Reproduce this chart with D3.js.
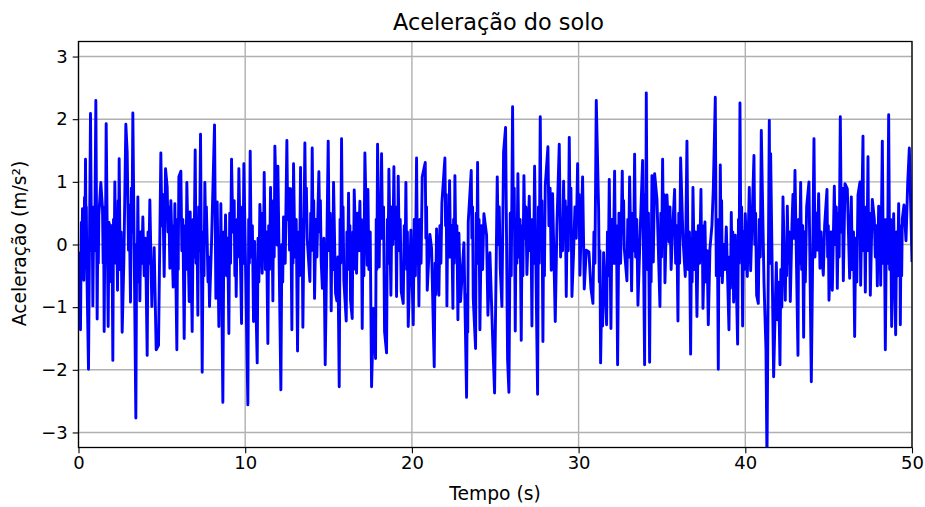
<!DOCTYPE html>
<html><head><meta charset="utf-8">
<script src="https://cdnjs.cloudflare.com/ajax/libs/d3/7.8.5/d3.min.js"></script>
<style>html,body{margin:0;padding:0;background:#fff}svg{display:block}text{font-family:"DejaVu Sans",sans-serif;fill:#000}</style>
</head><body><svg id="c" width="925" height="507"></svg>
<script>
const chartTitle = "Aceleração do solo";
const xLabel = "Tempo (s)";
const yLabel = "Aceleração (m/s²)";
const xTicks = [0,10,20,30,40,50];
const yTicks = [-3,-2,-1,0,1,2,3];
// Main peaks and troughs
const times = [0,.06,.12,.24,.32,.42,.50,.60,.72,.86,1.04,1.12,1.22,1.34,1.44,1.54,1.66,1.78,1.92,2.06,2.18,2.34,2.44,2.62,2.72,2.84,2.92,3.00,3.04,3.12,3.26,3.44,3.56,3.68,3.86,4.12,4.28,4.40,4.54,4.66,4.80,4.94,5.14,5.22,5.32,5.48,5.54,5.68,5.78,5.90,6.02,6.14,6.34,6.50,6.64,6.70,6.82,7.00,7.16,7.32,7.42,7.58,7.72,7.86,7.98,8.16,8.24,8.32,8.42,8.54,8.66,8.82,9.02,9.18,9.46,9.62,9.78,9.92,10.16,10.30,10.50,10.56,10.72,10.88,11.02,11.14,11.36,11.52,11.66,11.78,11.92,11.96,12.14,12.30,12.40,12.50,12.66,12.72,12.80,12.90,13.14,13.32,13.46,13.58,13.72,13.88,14.02,14.16,14.42,14.56,14.80,14.98,15.16,15.30,15.42,15.64,15.78,15.92,16.06,16.20,16.32,16.42,16.54,16.68,16.88,17.02,17.18,17.32,17.36,17.58,17.70,17.82,17.94,18.04,18.18,18.36,18.48,18.62,18.74,18.92,19.08,19.18,19.36,19.48,19.64,19.78,19.94,20.08,20.28,20.42,20.62,20.80,20.92,21.08,21.18,21.34,21.48,21.62,21.80,21.98,22.10,22.26,22.46,22.58,22.76,22.82,22.92,23.12,23.28,23.38,23.56,23.68,23.82,23.94,24.08,24.32,24.48,24.56,24.68,24.86,24.96,25.12,25.30,25.40,25.50,25.62,25.74,25.82,26.04,26.20,26.36,26.56,26.72,26.90,27.04,27.20,27.36,27.54,27.70,27.86,28.00,28.16,28.36,28.44,28.60,28.70,28.84,28.92,29.10,29.26,29.44,29.60,29.70,29.94,30.08,30.24,30.34,30.46,30.62,30.74,30.86,31.06,31.20,31.32,31.50,31.68,31.84,31.94,32.16,32.34,32.62,32.74,32.90,33.06,33.18,33.36,33.56,33.70,33.84,33.96,34.06,34.26,34.40,34.48,34.56,34.70,34.88,35.04,35.18,35.30,35.42,35.62,35.76,35.96,36.12,36.26,36.40,36.50,36.72,36.86,37.10,37.34,37.46,37.58,37.78,37.88,38.00,38.08,38.20,38.38,38.50,38.62,38.86,39.02,39.16,39.30,39.40,39.54,39.68,39.84,40.00,40.12,40.24,40.32,40.52,40.68,40.78,40.96,41.12,41.24,41.30,41.44,41.70,41.86,42.08,42.26,42.40,42.52,42.70,42.80,42.98,43.16,43.32,43.50,43.68,43.82,43.96,44.12,44.32,44.40,44.48,44.68,44.76,44.90,45.02,45.14,45.22,45.34,45.52,45.70,45.88,45.98,46.12,46.26,46.36,46.56,46.76,46.88,46.92,47.06,47.20,47.36,47.50,47.62,47.74,47.92,48.00,48.12,48.22,48.40,48.60,48.78,48.90,49.02,49.20,49.30,49.42,49.52,49.64,49.74,49.84,50];
const accel = [-.14,-.14,-1.36,.57,-.57,1.36,-.38,-1.99,2.09,-.98,2.30,-1.19,.47,.99,.57,-1.39,1.93,-1.31,.31,-1.85,1.00,-.73,1.37,-1.40,-.28,1.92,1.48,-.09,.63,-.92,2.10,-2.77,.76,-.90,.44,-1.77,.71,-.99,-.05,-1.68,-1.61,1.46,-.51,1.21,.92,-.38,.70,-.68,.65,-1.68,1.08,1.17,-1.50,.99,-.91,.52,-1.39,1.51,-1.13,1.76,-2.04,.99,.04,-.99,.03,1.91,-.86,.68,-1.31,.65,-2.52,.47,-1.42,1.36,-.83,1.21,-1.26,1.29,-2.56,1.49,-1.23,.05,-1.89,.64,-.46,1.15,-1.58,.91,-.90,1.57,-.01,1.25,-2.32,.44,-.30,1.66,-.09,.89,-1.36,1.29,-1.70,1.23,-1.32,1.62,.10,-.59,1.54,-.86,1.16,-.28,-1.92,1.65,-1.06,.99,-.78,-2.27,1.69,-.58,-1.22,.82,-.89,-1.18,.87,-.46,.69,-1.34,1.46,-.33,.88,-2.27,-1.02,-1.82,1.60,-.36,1.45,-1.39,-1.73,1.20,-.81,1.24,-.83,1.09,-.75,-.94,.99,-1.31,.23,-1.28,1.38,-.98,1.08,1.31,-.73,.16,-.06,-1.95,.25,-.81,.67,1.38,-.98,1.02,-1.02,1.10,-1.20,.18,-.91,.03,-2.44,.36,1.18,-.86,-1.66,1.31,-1.36,.49,.15,-1.13,-.13,-1.63,-2.37,1.08,-.38,-.99,1.48,1.87,-1.84,-2.36,2.20,-1.38,1.13,-1.53,1.10,-.48,.77,-1.30,1.25,-2.39,2.04,-1.55,.94,1.56,-.41,.81,-1.23,.31,1.60,-.20,1.01,-.83,1.71,-.83,-.12,1.29,-.49,1.08,-.71,-.09,-.12,-.70,-.94,2.30,.57,-1.89,-.13,-1.28,1.04,-1.34,1.17,-1.92,1.17,-.06,-.58,1.08,-.74,1.44,-.97,.25,1.34,-1.92,2.42,-1.88,1.10,-.28,1.13,.73,-.99,1.36,-.61,.79,.04,.12,.88,-1.22,1.38,.10,-.51,1.65,-1.75,.91,-1.15,.88,-1.02,.36,-1.28,-.06,.31,.89,2.35,-1.99,1.27,-.61,.28,-1.36,.51,-.92,.15,-1.59,2.26,-1.30,.49,-.51,.91,-.42,1.42,-.81,-.94,1.82,-.59,-1.68,-3.45,1.98,-2.11,-.29,-1.92,.76,-.89,.61,-.91,.33,1.18,-1.77,.99,-1.48,.60,1.00,-2.19,1.69,-.09,.81,-.38,-.49,.31,.88,-.89,.20,-.73,.93,-.70,2.04,-.58,.97,.89,-.54,.76,-1.47,.79,1.00,-.65,1.73,-.76,1.40,-.81,.72,.40,-.66,.61,-.65,1.65,-1.68,2.07,-1.31,.49,-1.44,.65,-1.28,.41,.63,.06,.97,1.54,-.28];
// Smaller reversals estimated inside the dense parts of the trace
const detailTimes = [.17,.20,.36,.39,.45,.47,.78,.82,.92,.97,1.16,1.19,1.48,1.51,1.59,1.62,1.83,1.88,1.97,2.01,2.10,2.14,2.24,2.29,2.38,2.41,2.50,2.56,3.17,3.21,3.49,3.52,3.60,3.64,3.74,3.80,3.94,4.02,4.17,4.22,4.45,4.49,5.0,5.06,5.37,5.42,5.72,5.75,5.95,5.98,6.2,6.26,6.4,6.45,6.88,6.93,7.05,7.10,7.21,7.26,7.48,7.53,7.63,7.67,7.77,7.81,8.46,8.50,8.72,8.77,8.88,8.95,9.07,9.12,9.26,9.34,9.38,9.42,9.52,9.56,9.83,9.87,10.21,10.25,10.36,10.43,10.77,10.82,11.06,11.10,11.21,11.28,11.41,11.46,11.57,11.61,11.70,11.74,12.2,12.25,12.55,12.60,12.84,12.87,12.98,13.06,13.2,13.26,13.37,13.41,13.63,13.67,13.93,13.97,14.07,14.11,14.24,14.3,14.47,14.51,14.63,14.72,15.04,15.10,15.2,15.25,15.5,15.56,15.69,15.73,15.83,15.87,16.1,16.15,16.24,16.28,16.46,16.50,16.74,16.8,16.92,16.97,17.07,17.12,17.42,17.5,17.86,17.9,18.08,18.13,18.24,18.3,18.53,18.57,18.8,18.86,18.97,19.03,19.12,19.15,19.24,19.3,19.54,19.59,19.69,19.73,20.14,20.21,20.33,20.37,20.48,20.55,20.84,20.88,21.39,21.43,21.68,21.74,22.02,22.06,22.15,22.2,22.32,22.39,22.5,22.54,22.64,22.7,23.32,23.35,23.6,23.64,23.86,23.9,23.98,24.03,24.16,24.24,25.18,25.24,25.9,25.96,26.09,26.14,26.25,26.3,26.42,26.49,26.61,26.66,26.78,26.84,27.09,27.14,27.25,27.3,27.59,27.64,27.75,27.8,27.9,27.95,28.22,28.29,28.98,29.04,29.15,29.2,29.32,29.38,29.49,29.54,29.78,29.86,29.98,30.03,30.92,30.98,31.24,31.28,31.38,31.44,31.73,31.78,32.0,32.08,32.21,32.27,32.42,32.52,32.66,32.7,32.95,33.0,33.24,33.3,33.42,33.49,34.0,34.03,34.12,34.19,34.31,34.35,34.93,34.98,35.08,35.13,35.48,35.55,35.82,35.89,36.01,36.06,36.57,36.65,36.77,36.81,36.94,37.02,37.18,37.26,37.38,37.42,37.64,37.71,38.26,38.32,38.42,38.46,38.54,38.58,38.70,38.78,39.07,39.11,39.2,39.25,39.59,39.63,39.73,39.78,39.89,39.94,40.57,40.62,40.84,40.9,41.48,41.52,41.93,42.0,42.13,42.19,42.44,42.48,42.58,42.64,42.86,42.92,43.2,43.26,43.38,43.44,43.55,43.6,44.18,44.25,44.55,44.6,44.94,44.98,45.4,45.46,45.58,45.63,45.76,45.82,46.42,46.49,46.62,46.69,47.1,47.15,47.25,47.3,47.4,47.45,47.8,47.86,48.04,48.08,48.28,48.34,48.47,48.53,48.66,48.72,49.08,49.14,49.24,49.27,49.34,49.38];
const detailAccel = [.35,-.2,.75,.1,.2,.6,-.1,.5,.6,-.1,.3,-.3,-.3,.2,.6,.1,.35,-.4,-.6,.1,.4,-.2,-.3,.3,.7,.1,-.4,.2,.9,.2,0,-.6,-.3,.2,.2,-.3,-.5,.1,.2,-.3,-.3,-.7,.3,.8,.2,.6,.3,-.2,.4,-.4,-.1,.4,.3,-.4,.4,-.2,-.3,.4,.6,-.1,.2,-.5,.2,.6,-.6,-.2,.1,-.5,.2,-.4,-.5,.1,.5,-.3,.2,.7,-.5,.1,.4,-.2,.6,-.3,.4,-.3,-.2,.3,.1,-.6,.5,-.1,-.4,.2,.3,-.4,-.3,.3,.7,-.2,0,-.6,.4,.9,.6,-.3,-.2,.4,.2,-.5,-.2,.4,.4,.9,.5,-.1,.2,.7,.4,-.2,.2,.7,-.7,.1,-.1,.5,.3,-.4,-.9,-.2,.4,-.3,.1,.6,.2,-.4,-.2,.3,.2,-.4,.5,-.1,-.1,.4,.3,-.5,-.4,.2,.4,-.4,.7,.1,.1,.6,.4,-.3,.6,0,.1,.6,.5,-.1,-.1,.4,.3,-.3,-.4,.2,.4,-.5,-.3,.3,.4,-.3,.1,.6,-.3,-.8,.3,-.3,.3,.8,.5,-.2,-.2,.3,.4,-.3,-.2,.3,-.8,-1.4,.1,.6,.5,-.3,-.2,.4,.3,-.4,0,.6,.5,-.5,.3,.9,.4,-.3,-.2,.4,.3,-.5,.1,.6,-.1,.4,.4,-.3,.6,-.3,.1,.7,.2,-.5,.3,.9,.4,-.1,.2,.7,.6,-.1,.3,.9,.6,.1,.4,.8,.2,-.3,-.6,-.1,-.9,-1.3,.2,-.5,.4,-.3,-.3,.3,.5,-.3,.2,.7,.4,-.2,.5,-.1,-.2,.4,.8,-.4,-.4,.5,.1,-.6,.5,-.2,.3,.8,.6,-.4,-.3,.3,.5,-.3,-.4,.2,.1,-.6,-.4,.2,.3,-.3,-.2,.3,-.6,-.1,-.5,.4,.2,-.5,.2,.7,0,-.4,-.2,-.7,-.3,.2,.4,-.3,.1,.6,.2,-.4,0,.5,.4,-.2,-.3,1.45,-1.2,-.6,-.4,-1,0,-.5,-.3,.2,.8,.1,.4,-.3,-.4,.3,.2,-.6,-.2,.5,.2,-.2,-.2,.3,0,.6,.5,-.2,.2,.9,-.4,.2,.1,-.6,-.1,.5,.6,-.1,-.1,.5,-.2,.3,-.2,.3,-.3,.4,.4,-.3,-.4,.4,.2,-.5,-.3,.3,.1,-.5];

const samples = d3.sort(
  times.map((t,i)=>({t,a:accel[i]})).concat(detailTimes.map((t,i)=>({t,a:detailAccel[i]}))),
  d=>d.t);

const L=78.5,R=912,T=41.5,B=447.5;
const x=d3.scaleLinear().domain([0,50]).range([L,R]);
const y=d3.scaleLinear().domain([-3.24,3.24]).range([B,T]);
const svg=d3.select("#c");
svg.append("defs").append("clipPath").attr("id","p").append("rect").attr("x",L).attr("y",T).attr("width",R-L).attr("height",B-T);
const g=svg.append("g");
g.selectAll("line.gx").data(xTicks).join("line").attr("class","gx").attr("x1",d=>x(d)).attr("x2",d=>x(d)).attr("y1",T).attr("y2",B).attr("stroke","#b0b0b0").attr("stroke-width",1.4);
g.selectAll("line.gy").data(yTicks).join("line").attr("class","gy").attr("y1",d=>y(d)).attr("y2",d=>y(d)).attr("x1",L).attr("x2",R).attr("stroke","#b0b0b0").attr("stroke-width",1.4);
const line=d3.line().x(d=>x(d.t)).y(d=>y(d.a));
svg.append("path").datum(samples).attr("d",line).attr("fill","none").attr("stroke","#0000ff").attr("stroke-width",2.9).attr("stroke-linejoin","round").attr("clip-path","url(#p)");
const ax=svg.append("g").attr("transform",`translate(0,${B})`).call(d3.axisBottom(x).tickValues(xTicks).tickSize(5.8).tickPadding(3).tickFormat(d3.format("d")));
const ay=svg.append("g").attr("transform",`translate(${L},0)`).call(d3.axisLeft(y).tickValues(yTicks).tickSize(5.8).tickPadding(5).tickFormat(d3.format("d")));
[ax,ay].forEach(a=>{a.select(".domain").remove();a.selectAll("line").attr("stroke","#000").attr("stroke-width",1.1);a.selectAll("text").attr("font-size",18).attr("font-family",'"DejaVu Sans"');});
svg.append("rect").attr("x",L).attr("y",T).attr("width",R-L).attr("height",B-T).attr("fill","none").attr("stroke","#000").attr("stroke-width",1.3);
svg.append("text").attr("x",498.5).attr("y",30).attr("text-anchor","middle").attr("font-size",22.4).text(chartTitle);
svg.append("text").attr("x",495).attr("y",499.5).attr("text-anchor","middle").attr("font-size",18.7).text(xLabel);
svg.append("text").attr("transform","translate(26,243.5) rotate(-90)").attr("text-anchor","middle").attr("font-size",18.7).text(yLabel);
</script></body></html>
